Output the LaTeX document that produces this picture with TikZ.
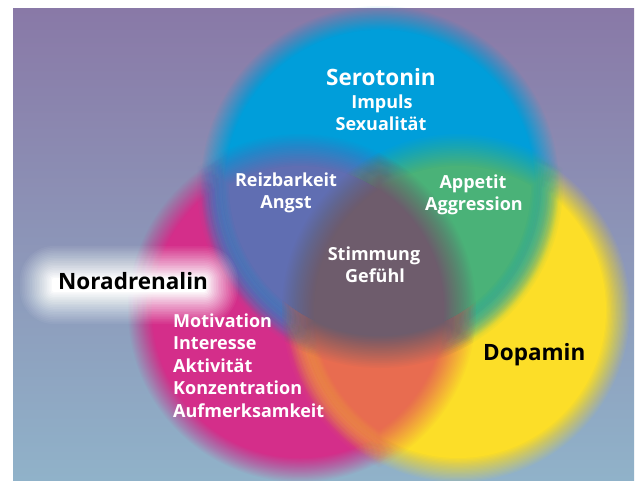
\documentclass[tikz,border=0pt]{standalone}
\usepackage{fontspec}
\setmainfont{Open Sans}

\definecolor{bgtop}{RGB}{137,121,167}
\definecolor{bgmid}{RGB}{136,142,182}
\definecolor{bgbot}{RGB}{144,178,201}
\definecolor{serocol}{RGB}{0,158,218}
\definecolor{noracol}{RGB}{212,46,138}
\definecolor{dopacol}{RGB}{252,222,40}
\definecolor{snmix}{RGB}{96,110,178}
\definecolor{sdmix}{RGB}{74,178,120}
\definecolor{ndmix}{RGB}{232,108,80}
\definecolor{allmix}{RGB}{110,92,108}

\tikzset{
  lbl/.style={text=white, font=\bfseries\fontsize{18}{22}\selectfont, inner sep=0pt},
  title/.style={font=\bfseries\fontsize{22.5}{26}\selectfont, inner sep=0pt},
}

% soft edges: \nlay layers, each a bit smaller, opacities chosen so the edge ramps linearly
\newcommand\nlay{20}
\newcommand\softdisc[4]{% blur, colour, centre, radius
  \foreach \k in {1,...,\nlay}{%
    \pgfmathsetmacro\dd{#1-(\k-1)*2*#1/(\nlay-1)}%
    \pgfmathsetmacro\aa{1/(\nlay+1-\k)}%
    \fill[#2, fill opacity=\aa] (#3) circle ({#4+\dd});
  }}
% overlap of A and B, kept out of the inner part of C (the core covers that)
\newcommand\softlens[8]{% blur, colour, A, rA, B, rB, C, rC
  \begin{scope}
    \clip (-100,-100) -- (-100,600) -- (800,600) -- (800,-100) -- cycle
      (#7) circle ({#8-#1});
    \foreach \k in {1,...,\nlay}{%
      \pgfmathsetmacro\dd{#1-(\k-1)*2*#1/(\nlay-1)}%
      \pgfmathsetmacro\aa{1/(\nlay+1-\k)}%
      \begin{scope}
        \clip (#3) circle ({#4+\dd});
        \fill[#2, fill opacity=\aa] (#5) circle ({#6+\dd});
      \end{scope}
    }
  \end{scope}}

\begin{document}
\begin{tikzpicture}[x=1pt, y=1pt]
    \useasboundingbox (0,0) rectangle (639,480);
    \fill[white] (0,0) rectangle (639,480);

    % backdrop
    \shade[top color=bgtop, middle color=bgmid, bottom color=bgbot] (13,0) rectangle (634,471);

    % centres of the three circles
    \coordinate (sero) at (380,295);
    \coordinate (nora) at (300,170);
    \coordinate (dopa) at (458,170);

    % the circles
    \softdisc{12}{noracol}{nora}{160}
    \softdisc{12}{dopacol}{dopa}{160}
    \softdisc{12}{serocol}{sero}{167}

    % overlaps
    \softlens{16}{snmix}{sero}{167}{nora}{160}{dopa}{160}
    \softlens{16}{sdmix}{sero}{167}{dopa}{160}{nora}{160}
    \softlens{16}{ndmix}{nora}{160}{dopa}{160}{sero}{167}
    \foreach \k in {1,...,\nlay}{
      \pgfmathsetmacro\dd{16-(\k-1)*32/(\nlay-1)}
      \pgfmathsetmacro\aa{1/(\nlay+1-\k)}
      \begin{scope}
        \clip (sero) circle ({167+\dd});
        \clip (nora) circle ({160+\dd});
        \fill[allmix, fill opacity=\aa] (dopa) circle ({160+\dd});
      \end{scope}
    }

    % white glow behind the Noradrenalin label
    \foreach \k in {1,...,\nlay}{
      \pgfmathsetmacro\dd{16-(\k-1)*32/(\nlay-1)}
      \pgfmathsetmacro\aa{1/(\nlay+1-\k)}
      \pgfmathsetmacro\rc{max(1,18+\dd)}
      \fill[white, fill opacity=\aa, rounded corners=\rc pt]
        (36-\dd,172-\dd) rectangle (222+\dd,218+\dd);
    }

    % Serotonin
    \node[title, text=white, anchor=base] (seroT) at (381,394) {Serotonin};
    \node[lbl, anchor=base] (impuls) at (382,371) {Impuls};
    \node[lbl, anchor=base] (sexu) at (381,349) {Sexualität};

    % overlaps
    \node[lbl, anchor=base] (reiz) at (286,294) {Reizbarkeit};
    \node[lbl, anchor=base] (angst) at (286,272) {Angst};
    \node[lbl, anchor=base] (appetit) at (473,292) {Appetit};
    \node[lbl, anchor=base] (aggr) at (474,270) {Aggression};
    \node[lbl, anchor=base] (stimm) at (374,220) {Stimmung};
    \node[lbl, anchor=base] (gefuehl) at (375,198) {Gefühl};

    % Noradrenalin
    \node[title, text=black, anchor=base west] (noraT) at (58,191) {Noradrenalin};
    \foreach \t/\y [count=\i] in {Motivation/153, Interesse/131, Aktivität/108,
        Konzentration/86, Aufmerksamkeit/63}
      \node[lbl, anchor=base west] (noraL\i) at (173,\y) {\t};

    % Dopamin
    \node[title, text=black, anchor=base west] (dopaT) at (483,120) {Dopamin};
\end{tikzpicture}
\end{document}
